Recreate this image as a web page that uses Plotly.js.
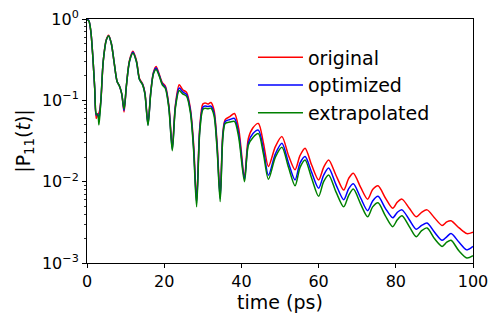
<!DOCTYPE html>
<html>
<head>
<meta charset="utf-8">
<script src="https://cdn.plot.ly/plotly-3.0.1.min.js"></script>
<style>
  body { margin: 0; background: white; }
  #graph { width: 499px; height: 328px; }
</style>
</head>
<body>
<div id="graph"></div>
<script>
var time_ps = [0, 0.5, 1, 1.5, 2, 2.4, 2.8, 3.1, 3.6, 4.2, 5.0, 5.6, 6.3, 7.0, 7.8, 8.4, 9.0, 9.6, 10.2, 11.0,
    11.9, 12.8, 13.6, 14.4, 15.0, 15.8, 16.5, 17.2, 17.9, 18.7, 19.5, 20.3, 21.2, 22.1, 22.9, 23.9, 24.8, 25.8, 26.8, 27.6,
    28.4, 29.2, 30.0, 30.6, 31.3, 32.1, 32.9, 33.7, 34.5, 35.2, 35.8, 37.0, 38.2, 39.3, 40.8, 41.8, 43.0, 44.4, 45.7, 47.0,
    48.8, 50.5, 52.2, 53.9, 55.2, 56.5, 58.2, 60.0, 61.3, 62.6, 64.5, 66.5, 67.8, 69.0, 70.9, 72.7, 74.0, 75.4, 77.3, 79.2,
    80.4, 81.6, 83.5, 85.3, 86.7, 88.1, 90.0, 92.0, 93.2, 94.3, 96.4, 98.4, 100];

var original = [1.0, 0.95, 0.7, 0.35, 0.14, 0.06, 0.068, 0.07, 0.1, 0.3, 0.56, 0.63, 0.5, 0.3, 0.17, 0.15, 0.12, 0.072, 0.15, 0.31,
    0.40, 0.31, 0.185, 0.16, 0.125, 0.052, 0.125, 0.22, 0.26, 0.21, 0.165, 0.15, 0.088, 0.027, 0.088, 0.155, 0.135, 0.125, 0.078, 0.03,
    0.006, 0.046, 0.09, 0.093, 0.09, 0.094, 0.076, 0.03, 0.0068, 0.04, 0.058, 0.063, 0.069, 0.045, 0.0115, 0.034, 0.046, 0.052, 0.03, 0.0154,
    0.027, 0.0358, 0.021, 0.014, 0.021, 0.0258, 0.016, 0.0105, 0.015, 0.0185, 0.012, 0.0079, 0.011, 0.0127, 0.0085, 0.0061, 0.008, 0.0089, 0.0063, 0.0047,
    0.0056, 0.0061, 0.0047, 0.0037, 0.0042, 0.0045, 0.0036, 0.0029, 0.0032, 0.0033, 0.0027, 0.0023, 0.0024];

var optimized = [1.0, 0.95, 0.7, 0.35, 0.14, 0.066, 0.068, 0.058, 0.1, 0.3, 0.55, 0.62, 0.5, 0.3, 0.17, 0.15, 0.12, 0.075, 0.15, 0.3,
    0.39, 0.3, 0.18, 0.157, 0.122, 0.05, 0.122, 0.215, 0.25, 0.205, 0.16, 0.145, 0.084, 0.025, 0.084, 0.142, 0.127, 0.118, 0.074, 0.027,
    0.0055, 0.043, 0.082, 0.085, 0.084, 0.085, 0.07, 0.027, 0.0062, 0.037, 0.055, 0.058, 0.06, 0.039, 0.0108, 0.03, 0.039, 0.043, 0.025, 0.012,
    0.022, 0.0297, 0.017, 0.0105, 0.017, 0.0204, 0.013, 0.0083, 0.012, 0.0147, 0.0092, 0.006, 0.0082, 0.0094, 0.0063, 0.0044, 0.0058, 0.0066, 0.0047, 0.0036,
    0.0042, 0.0045, 0.0034, 0.0026, 0.0029, 0.0031, 0.0024, 0.0019, 0.0021, 0.0023, 0.0018, 0.00145, 0.0016];

var extrapolated = [0.98, 0.94, 0.7, 0.35, 0.14, 0.068, 0.066, 0.05, 0.1, 0.3, 0.55, 0.62, 0.5, 0.3, 0.17, 0.15, 0.12, 0.078, 0.15, 0.3,
    0.38, 0.3, 0.18, 0.155, 0.12, 0.049, 0.12, 0.21, 0.24, 0.2, 0.155, 0.14, 0.08, 0.024, 0.08, 0.132, 0.12, 0.112, 0.07, 0.025,
    0.0049, 0.04, 0.077, 0.08, 0.079, 0.08, 0.065, 0.025, 0.0057, 0.035, 0.052, 0.054, 0.055, 0.035, 0.010, 0.028, 0.035, 0.039, 0.022, 0.0107,
    0.02, 0.0265, 0.015, 0.0089, 0.015, 0.0185, 0.011, 0.0066, 0.010, 0.0121, 0.0075, 0.0049, 0.0068, 0.0081, 0.0053, 0.0037, 0.0049, 0.0055, 0.0038, 0.0028,
    0.0034, 0.0038, 0.0028, 0.0021, 0.0025, 0.0027, 0.002, 0.0016, 0.0018, 0.0019, 0.0014, 0.00115, 0.00123];

var y_tick_values = [0.001, 0.01, 0.1, 1];
var y_tick_labels = ['10<sup>\u22123</sup>', '10<sup>\u22122</sup>', '10<sup>\u22121</sup>', '10<sup>0</sup>'];
var x_tick_values = [0, 20, 40, 60, 80, 100];

function plot() {
    var graphDocument = document.getElementById('graph');

    var font = 'DejaVu Sans, sans-serif';

    var layout = {
        width: 499,
        height: 328,
        margin: {l: 87, r: 26, t: 19, b: 65},
        paper_bgcolor: 'white',
        plot_bgcolor: 'white',
        font: {family: font, size: 16, color: 'black'},
        showlegend: true,
        legend: {
            x: 0.43, y: 0.92, xanchor: 'left', yanchor: 'top',
            bgcolor: 'rgba(0,0,0,0)',
            font: {family: font, size: 19},
            itemwidth: 45,
            tracegroupgap: 0,
        },
        xaxis: {
            title: {text: 'time (ps)', font: {family: font, size: 19}, standoff: 5},
            range: [0, 100],
            tickvals: x_tick_values,
            ticks: 'outside', ticklen: 4, tickwidth: 1, tickcolor: 'black',
            showline: true, linecolor: 'black', linewidth: 1, mirror: true,
            showgrid: false, zeroline: false,
            tickfont: {family: font, size: 16},
        },
        yaxis: {
            title: {text: '|P<sub>11</sub>(<i>t</i>)|', font: {family: font, size: 19}, standoff: 6},
            type: 'log',
            range: [-3, 0],
            tickmode: 'array',
            tickvals: y_tick_values,
            ticktext: y_tick_labels,
            ticks: 'outside', ticklen: 4, tickwidth: 1, tickcolor: 'black',
            minor: {dtick: 'D1', ticks: 'outside', ticklen: 2, tickwidth: 0.8, tickcolor: 'black', showgrid: false},
            showline: true, linecolor: 'black', linewidth: 1, mirror: true,
            showgrid: false, zeroline: false,
            tickfont: {family: font, size: 16},
        },
    };

    var original_trace = {
        x: time_ps, y: original, name: 'original',
        type: 'scatter', mode: 'lines',
        line: {color: '#ff0000', width: 1.5, shape: 'spline', smoothing: 0.8},
    };

    var optimized_trace = {
        x: time_ps, y: optimized, name: 'optimized',
        type: 'scatter', mode: 'lines',
        line: {color: '#0000ff', width: 1.5, shape: 'spline', smoothing: 0.8},
    };

    var extrapolated_trace = {
        x: time_ps, y: extrapolated, name: 'extrapolated',
        type: 'scatter', mode: 'lines',
        line: {color: '#008000', width: 1.5, shape: 'spline', smoothing: 0.8},
    };

    var data = [original_trace, optimized_trace, extrapolated_trace];

    Plotly.newPlot(graphDocument, data, layout, {displayModeBar: false, staticPlot: true});
}

plot();
</script>
</body>
</html>
